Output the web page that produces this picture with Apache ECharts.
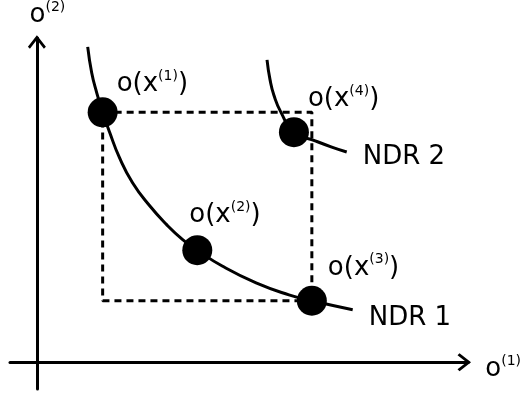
<!DOCTYPE html>
<html><head><meta charset="utf-8">
<script src="https://cdn.jsdelivr.net/npm/echarts@6/dist/echarts.min.js"></script>
<style>html,body{margin:0;padding:0;background:#fff}#c{width:524px;height:394px}</style>
</head><body><div id="c"></div>
<script>
// ---- data (axis units, origin where the two axes cross) ----
const pointNames = ['1', '2', '3', '4'];
const pointX = [6.6, 16.1, 27.6, 25.8];
const pointY = [25.2, 11.3, 6.2, 23.2];
const ndr1X = [5.1, 5.5, 6.0, 6.6, 7.3, 8.3, 9.6, 11.3, 13.0, 14.6, 16.1, 18.6, 22.0, 25.3, 27.6, 31.7];
const ndr1Y = [31.8, 29.2, 27.2, 25.2, 23.2, 20.6, 18.1, 15.8, 13.9, 12.4, 11.3, 9.7, 8.0, 6.8, 6.2, 5.3];
const ndr2X = [23.1, 23.4, 23.8, 24.5, 25.8, 28.0, 29.6, 31.1];
const ndr2Y = [30.5, 28.5, 26.9, 25.2, 23.2, 22.3, 21.7, 21.2];
const curveNames = ['NDR 1', 'NDR 2'];
const axisNames = ['1', '2'];

// ---- options ----
const FONT = 'DejaVu Sans';
const zip = (xs, ys) => xs.map((x, i) => [x, ys[i]]);
// rectangle spanned by o(x(1)) and o(x(3))
const bx = [pointX[0], pointX[2], pointX[2], pointX[0], pointX[0]];
const by = [pointY[0], pointY[0], pointY[2], pointY[2], pointY[0]];

const pointRich = {
  m: {fontSize: 26, fontFamily: FONT, color: '#000', lineHeight: 30},
  s: {fontSize: 14, fontFamily: FONT, color: '#000', lineHeight: 28, verticalAlign: 'top'}
};
const axisRich = {
  m: {fontSize: 26, fontFamily: FONT, color: '#000', lineHeight: 30},
  s: {fontSize: 14, fontFamily: FONT, color: '#000', lineHeight: 19, verticalAlign: 'top'}
};
const labelOffsets = [[14, -28], [-8, -35], [16, -33], [14, -33]];
const arrowPath = 'path://M9 0 L18 11.5 L16 13.5 L9 4.5 L2 13.5 L0 11.5 Z';

const axisLine = {
  show: true, onZero: true,
  lineStyle: {color: '#000', width: 3},
  symbol: ['none', arrowPath], symbolSize: [18, 14], symbolOffset: [0, -4]
};

const option = {
  animation: false,
  backgroundColor: '#fff',
  grid: {left: 10, right: 54, top: 35, bottom: 5},
  xAxis: {
    type: 'value', min: -2.7, max: 43.3,
    axisLine: axisLine, axisTick: {show: false}, axisLabel: {show: false}, splitLine: {show: false},
    name: '{m|o}{s|(' + axisNames[0] + ')}', nameLocation: 'end', nameGap: 17,
    nameTextStyle: {rich: axisRich, padding: [14, 0, 0, 0]}
  },
  yAxis: {
    type: 'value', min: -2.7, max: 32.7,
    axisLine: axisLine, axisTick: {show: false}, axisLabel: {show: false}, splitLine: {show: false},
    name: '{m|o}{s|(' + axisNames[1] + ')}', nameLocation: 'end', nameGap: 8,
    nameTextStyle: {rich: axisRich, padding: [0, 0, 0, 21]}
  },
  series: [
    {
      type: 'line', data: zip(bx, by), showSymbol: false, silent: true, z: 2,
      lineStyle: {color: '#000', width: 3, type: [7, 5]}
    },
    {
      type: 'line', name: curveNames[0], data: zip(ndr1X, ndr1Y), showSymbol: false, smooth: 0.5, z: 3,
      lineStyle: {color: '#000', width: 3},
      endLabel: {show: true, formatter: curveNames[0], fontSize: 26, fontFamily: FONT, color: '#000',
                 align: 'left', verticalAlign: 'middle', offset: [8, 9]}
    },
    {
      type: 'line', name: curveNames[1], data: zip(ndr2X, ndr2Y), showSymbol: false, smooth: 0.5, z: 3,
      lineStyle: {color: '#000', width: 3},
      endLabel: {show: true, formatter: curveNames[1], fontSize: 26, fontFamily: FONT, color: '#000',
                 align: 'left', verticalAlign: 'middle', offset: [8, 5]}
    },
    {
      type: 'scatter', symbol: 'circle', symbolSize: 30, z: 5,
      itemStyle: {color: '#000', opacity: 1},
      data: pointNames.map((n, i) => ({
        value: [pointX[i], pointY[i]],
        label: {
          show: true, position: 'inside', align: 'left', verticalAlign: 'middle',
          offset: labelOffsets[i], color: '#000', opacity: 1,
          formatter: '{m|o(x}{s|(' + n + ')}{m|)}', rich: pointRich
        }
      }))
    }
  ]
};
const chart = echarts.init(document.getElementById('c'), null, {renderer: 'canvas'});
chart.setOption(option);
</script></body></html>
